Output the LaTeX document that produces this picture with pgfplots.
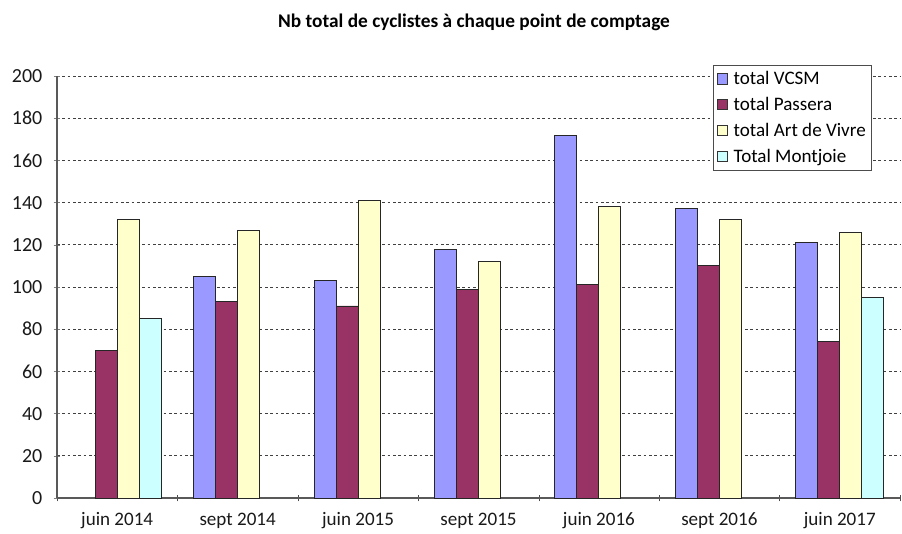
\documentclass[border=0pt]{standalone}
\usepackage{pgfplots}
\pgfplotsset{compat=1.18}
\usepackage{fontspec}
\setmainfont{Carlito}
\definecolor{cvcsm}{HTML}{9999FF}
\definecolor{cpass}{HTML}{993366}
\definecolor{cadv}{HTML}{FFFFCC}
\definecolor{cmont}{HTML}{CCFFFF}
\begin{document}
\begin{tikzpicture}[x=0.75pt,y=0.75pt]
\path (-57,-36) rectangle (845,498);
\begin{axis}[
  at={(0,0)}, anchor=south west,
  scale only axis, width=632.25pt, height=316.5pt,
  ybar=0pt, bar width=16.5pt,
  xmin=-0.5, xmax=6.5, ymin=0, ymax=200,
  ytick={0,20,...,200},
  xtick={0,...,6},
  xticklabels={juin 2014,sept 2014,juin 2015,sept 2015,juin 2016,sept 2016,juin 2017},
  minor xtick={-0.5,0.5,...,6.5},
  major x tick style={draw=none},
  minor x tick style={black!70},
  minor tick length=5pt,
  tick align=outside,
  major tick length=5pt,
  axis x line=bottom, axis y line=left,
  axis line style={black!65, line width=0.8pt, -},
  ymajorgrids, grid style={dash pattern=on 2pt off 2pt, black!75, line width=0.6pt},
  tick label style={font=\fontsize{14.3}{16}\selectfont, text=black!90},
  yticklabel style={font=\fontsize{15}{16}\selectfont, xshift=-5pt},
  /pgf/number format/assume math mode=true,
  xticklabel style={yshift=-5pt},
  every axis plot/.append style={draw=black!85, line width=0.7pt},
  legend style={at={(0.9668,1.026)}, anchor=north east, draw=black!70,
    font=\fontsize{14.3}{15}\selectfont, row sep=4pt, inner sep=2.5pt, fill=white,
    /tikz/every odd column/.append style={column sep=2.5pt}},
  legend cell align=left,
  legend image code/.code={\draw[#1, draw=black!80] (1pt,-3.8pt) rectangle (8.5pt,3.8pt);},
  clip=false,
]
\addplot[fill=cvcsm] coordinates {(1,105) (2,103) (3,118) (4,172) (5,137) (6,121)};
\addplot[fill=cpass] coordinates {(0,70) (1,93) (2,91) (3,99) (4,101) (5,110) (6,74)};
\addplot[fill=cadv] coordinates {(0,132) (1,127) (2,141) (3,112) (4,138) (5,132) (6,126)};
\addplot[fill=cmont] coordinates {(0,85) (6,95)};
\legend{total VCSM,total Passera,total Art de Vivre,Total Montjoie}
\end{axis}
\node[font=\bfseries\fontsize{14.5}{16}\selectfont] at (417,476) {Nb total de cyclistes à chaque point de comptage};
\end{tikzpicture}
\end{document}
